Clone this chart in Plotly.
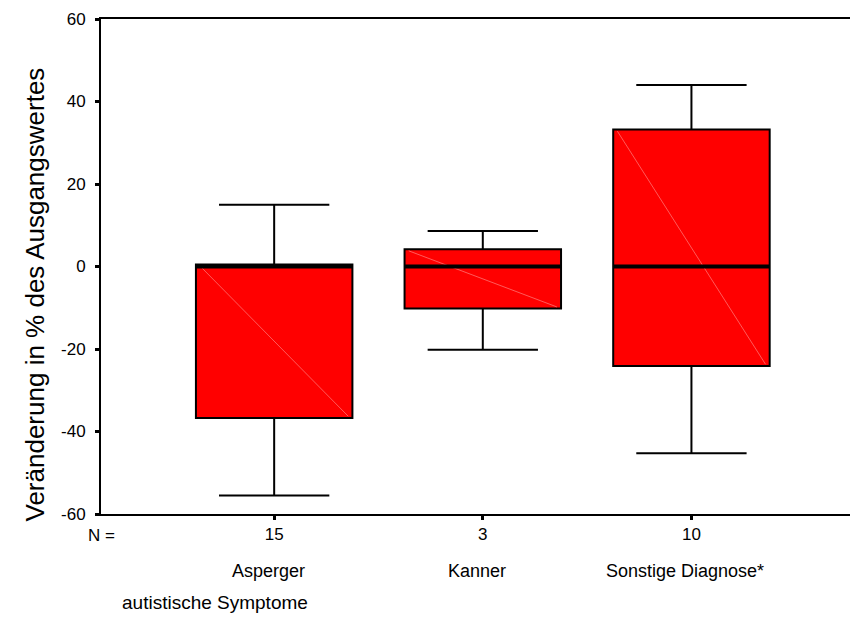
import plotly.graph_objects as go

# ---- data ----
categories = ["Asperger", "Kanner", "Sonstige Diagnose*"]
n_values = ["15", "3", "10"]
lower_whisker = [-55.5, -20.2, -45.3]
q1_values = [-36.7, -10.2, -24.1]
median_values = [0.0, 0.0, 0.0]
q3_values = [0.5, 4.2, 33.2]
upper_whisker = [15.0, 8.6, 44.0]
y_ticks = [-60, -40, -20, 0, 20, 40, 60]
y_tick_text = ["-60", "-40", "-20", "0", "20", "40", "60"]

FONT = "Liberation Sans, Arial, sans-serif"
BOX_W = 0.75
positions = list(range(len(categories)))

fig = go.Figure()

fig.add_trace(go.Box(
    x=positions,
    q1=q1_values, median=median_values, q3=q3_values,
    lowerfence=lower_whisker, upperfence=upper_whisker,
    width=BOX_W, whiskerwidth=0.705,
    fillcolor="#ff0000",
    line=dict(color="black", width=2),
    boxpoints=False, hoverinfo="skip", showlegend=False,
))

# faint diagonal artefact lines inside boxes
for p, a, b in zip(positions, q1_values, q3_values):
    fig.add_trace(go.Scatter(
        x=[p - BOX_W / 2 + 0.02, p + BOX_W / 2 - 0.02], y=[b - 0.4, a + 0.4],
        mode="lines", line=dict(color="#ff5a5a", width=1),
        hoverinfo="skip", showlegend=False))

# thick median lines
for p, m in zip(positions, median_values):
    fig.add_trace(go.Scatter(
        x=[p - BOX_W / 2, p + BOX_W / 2], y=[m, m],
        mode="lines", line=dict(color="black", width=4),
        hoverinfo="skip", showlegend=False))

annotations = []
for p, c in zip(positions, categories):
    annotations.append(dict(x=p, xref="x", y=0, yref="paper", text=c,
                            showarrow=False, xanchor="center", yanchor="middle",
                            xshift=-6, yshift=-57,
                            font=dict(family=FONT, size=18, color="black")))
annotations.append(dict(x=0, xref="paper", y=0, yref="paper", text="N =",
                        showarrow=False, xanchor="center", yanchor="middle",
                        yshift=-21, font=dict(family=FONT, size=17, color="black")))
annotations.append(dict(x=0, xref="paper", y=0, yref="paper", text="autistische Symptome",
                        showarrow=False, xanchor="left", yanchor="middle",
                        xshift=19, yshift=-88, font=dict(family=FONT, size=19, color="black")))
annotations.append(dict(x=0, xref="paper", y=0.5, yref="paper",
                        text="Veränderung in % des Ausgangswertes", textangle=-90,
                        showarrow=False, xanchor="center", yanchor="middle",
                        xshift=-67, yshift=-28, font=dict(family=FONT, size=26, color="black")))

fig.update_layout(
    width=850, height=638,
    margin=dict(l=101, r=0, t=19, b=124),
    paper_bgcolor="white", plot_bgcolor="white",
    font=dict(family=FONT, size=17, color="black"),
    annotations=annotations,
    xaxis=dict(range=[-0.83, 2.76], tickvals=positions, ticktext=n_values,
               showline=True, linecolor="black", linewidth=2, mirror=True,
               ticks="outside", ticklen=4, tickwidth=3, tickcolor="black",
               showgrid=False, zeroline=False, fixedrange=True),
    yaxis=dict(range=[-60, 60], tickvals=y_ticks, ticktext=y_tick_text,
               showline=True, linecolor="black", linewidth=2, mirror=False,
               ticks="outside", ticklen=4, tickwidth=3, tickcolor="black",
               ticklabelstandoff=6,
               showgrid=False, zeroline=False, fixedrange=True),
)

fig.write_html("out.html")
